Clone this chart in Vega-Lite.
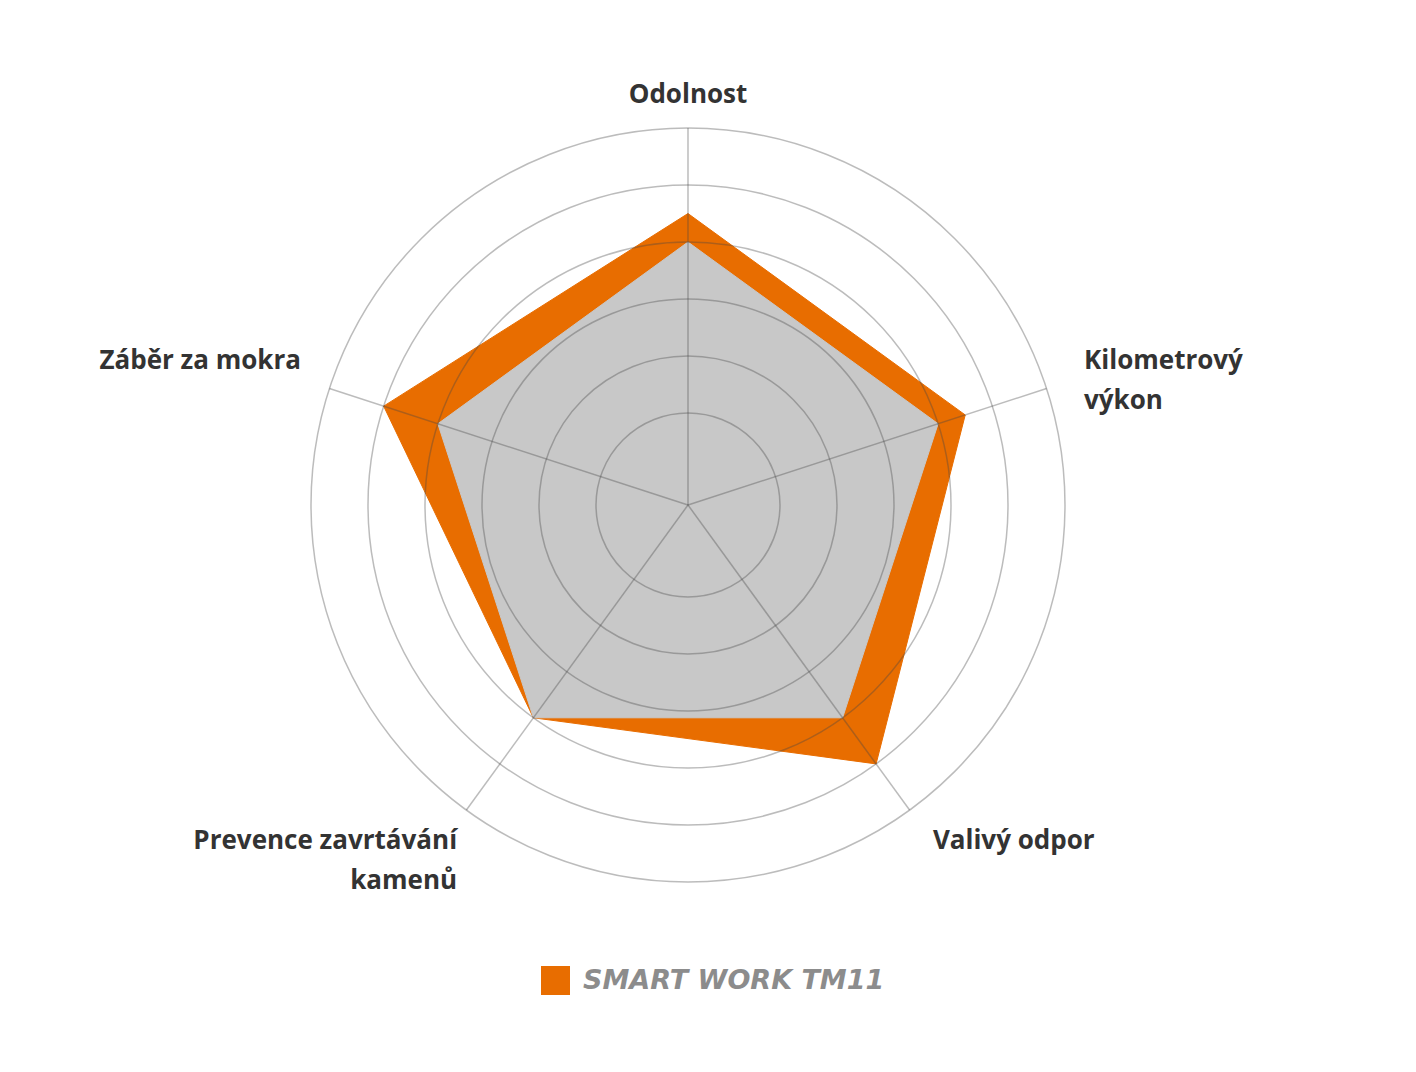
{
  "$schema": "https://vega.github.io/schema/vega-lite/v6.json",
  "width": 1416,
  "height": 1072,
  "autosize": {"type": "none"},
  "padding": 0,
  "background": "white",
  "config": {"view": {"stroke": null}, "text": {"font": "Open Sans"}},
  "datasets": {
    "scores": [
      {"category": "Odolnost", "idx": 0, "series": "SMART WORK TM11", "value": 4.5},
      {"category": "Kilometrový výkon", "idx": 1, "series": "SMART WORK TM11", "value": 4.5},
      {"category": "Valivý odpor", "idx": 2, "series": "SMART WORK TM11", "value": 5},
      {"category": "Prevence zavrtávání kamenů", "idx": 3, "series": "SMART WORK TM11", "value": 4},
      {"category": "Záběr za mokra", "idx": 4, "series": "SMART WORK TM11", "value": 5},
      {"category": "Odolnost", "idx": 0, "series": "Srovnání", "value": 4},
      {"category": "Kilometrový výkon", "idx": 1, "series": "Srovnání", "value": 4},
      {"category": "Valivý odpor", "idx": 2, "series": "Srovnání", "value": 4},
      {"category": "Prevence zavrtávání kamenů", "idx": 3, "series": "Srovnání", "value": 4},
      {"category": "Záběr za mokra", "idx": 4, "series": "Srovnání", "value": 4}
    ],
    "axes": [
      {"category": "Odolnost", "label": "Odolnost", "idx": 0},
      {"category": "Kilometrový výkon", "label": "Kilometrový\nvýkon", "idx": 1},
      {"category": "Valivý odpor", "label": "Valivý odpor", "idx": 2},
      {"category": "Prevence zavrtávání kamenů", "label": "Prevence zavrtávání\nkamenů", "idx": 3},
      {"category": "Záběr za mokra", "label": "Záběr za mokra", "idx": 4}
    ],
    "rings": [{"ring": 1}, {"ring": 2}, {"ring": 3}, {"ring": 4}, {"ring": 5}, {"ring": 6}]
  },
  "layer": [
    {
      "data": {"name": "scores"},
      "transform": [
        {"filter": "datum.series === 'SMART WORK TM11'"},
        {"calculate": "datum.idx * 2 * PI / 5", "as": "angle"},
        {"calculate": "(datum.value + 0.614) * sin(datum.angle)", "as": "px"},
        {"calculate": "(datum.value + 0.614) * cos(datum.angle)", "as": "py"}
      ],
      "mark": {"type": "line", "interpolate": "linear-closed", "fill": "#E86D00", "strokeWidth": 1},
      "encoding": {
        "x": {"field": "px", "type": "quantitative", "scale": {"domain": [-12.07, 12.772], "nice": false, "zero": false}, "axis": null},
        "y": {"field": "py", "type": "quantitative", "scale": {"domain": [-9.947, 8.86], "nice": false, "zero": false}, "axis": null},
        "order": {"field": "idx", "type": "quantitative"},
        "color": {
          "field": "series", "type": "nominal",
          "scale": {"domain": ["SMART WORK TM11"], "range": ["#E86D00"]},
          "legend": {
            "title": null, "orient": "none", "legendX": 541, "legendY": 966,
            "padding": 0, "symbolType": "square", "symbolSize": 841,
            "symbolFillColor": "#EC7410", "symbolStrokeColor": "#EC7410", "symbolStrokeWidth": 0,
            "symbolOpacity": 1,
            "labelFont": "DejaVu Sans", "labelFontSize": 27, "labelFontStyle": "italic",
            "labelFontWeight": "bold", "labelColor": "#8C8C8C", "labelOffset": 13, "labelLimit": 500
          }
        }
      }
    },
    {
      "data": {"name": "scores"},
      "transform": [
        {"filter": "datum.series === 'Srovnání'"},
        {"calculate": "datum.idx * 2 * PI / 5", "as": "angle"},
        {"calculate": "(datum.value + 0.614) * sin(datum.angle)", "as": "px"},
        {"calculate": "(datum.value + 0.614) * cos(datum.angle)", "as": "py"}
      ],
      "mark": {"type": "line", "interpolate": "linear-closed", "fill": "#C8C8C8", "stroke": "#C8C8C8", "strokeWidth": 1},
      "encoding": {
        "x": {"field": "px", "type": "quantitative", "scale": {"domain": [-12.07, 12.772], "nice": false, "zero": false}, "axis": null},
        "y": {"field": "py", "type": "quantitative", "scale": {"domain": [-9.947, 8.86], "nice": false, "zero": false}, "axis": null},
        "order": {"field": "idx", "type": "quantitative"}
      }
    },
    {
      "data": {"name": "rings"},
      "mark": {"type": "arc", "theta": 0, "theta2": 6.3, "radius2": 0, "filled": false, "stroke": "#444444", "strokeOpacity": 0.36, "strokeWidth": 1.5},
      "encoding": {
        "x": {"datum": 0, "type": "quantitative", "scale": {"domain": [-12.07, 12.772], "nice": false, "zero": false}, "axis": null},
        "y": {"datum": 0, "type": "quantitative", "scale": {"domain": [-9.947, 8.86], "nice": false, "zero": false}, "axis": null},
        "radius": {"field": "ring", "type": "quantitative", "stack": null, "scale": {"type": "linear", "domain": [0, 6], "range": [35, 377], "zero": false}}
      }
    },
    {
      "data": {"name": "axes"},
      "transform": [
        {"calculate": "datum.idx * 2 * PI / 5", "as": "angle"},
        {"calculate": "6.614 * sin(datum.angle)", "as": "ex"},
        {"calculate": "6.614 * cos(datum.angle)", "as": "ey"}
      ],
      "mark": {"type": "rule", "stroke": "#444444", "strokeOpacity": 0.36, "strokeWidth": 1.5},
      "encoding": {
        "x": {"field": "ex", "type": "quantitative", "scale": {"domain": [-12.07, 12.772], "nice": false, "zero": false}, "axis": null},
        "y": {"field": "ey", "type": "quantitative", "scale": {"domain": [-9.947, 8.86], "nice": false, "zero": false}, "axis": null},
        "x2": {"datum": 0},
        "y2": {"datum": 0}
      }
    },
    {
      "data": {"name": "axes"},
      "transform": [
        {"filter": "datum.idx === 0"},
        {"calculate": "datum.idx * 2 * PI / 5", "as": "angle"},
        {"calculate": "7.25 * sin(datum.angle)", "as": "lx"},
        {"calculate": "7.25 * cos(datum.angle)", "as": "ly"}
      ],
      "mark": {"type": "text", "align": "center", "baseline": "middle", "dy": 3, "fontSize": 26, "fontWeight": 700, "color": "#333333", "lineBreak": "\n", "lineHeight": 40},
      "encoding": {
        "x": {"field": "lx", "type": "quantitative", "scale": {"domain": [-12.07, 12.772], "nice": false, "zero": false}, "axis": null},
        "y": {"field": "ly", "type": "quantitative", "scale": {"domain": [-9.947, 8.86], "nice": false, "zero": false}, "axis": null},
        "text": {"field": "label"}
      }
    },
    {
      "data": {"name": "axes"},
      "transform": [
        {"filter": "datum.idx === 1"},
        {"calculate": "datum.idx * 2 * PI / 5", "as": "angle"},
        {"calculate": "7.25 * sin(datum.angle)", "as": "lx"},
        {"calculate": "7.25 * cos(datum.angle)", "as": "ly"}
      ],
      "mark": {"type": "text", "align": "left", "baseline": "middle", "dx": 3, "dy": -16, "fontSize": 26, "fontWeight": 700, "color": "#333333", "lineBreak": "\n", "lineHeight": 40},
      "encoding": {
        "x": {"field": "lx", "type": "quantitative", "scale": {"domain": [-12.07, 12.772], "nice": false, "zero": false}, "axis": null},
        "y": {"field": "ly", "type": "quantitative", "scale": {"domain": [-9.947, 8.86], "nice": false, "zero": false}, "axis": null},
        "text": {"field": "label"}
      }
    },
    {
      "data": {"name": "axes"},
      "transform": [
        {"filter": "datum.idx === 2"},
        {"calculate": "datum.idx * 2 * PI / 5", "as": "angle"},
        {"calculate": "7.25 * sin(datum.angle)", "as": "lx"},
        {"calculate": "7.25 * cos(datum.angle)", "as": "ly"}
      ],
      "mark": {"type": "text", "align": "left", "baseline": "middle", "dx": 2, "dy": 2, "fontSize": 26, "fontWeight": 700, "color": "#333333", "lineBreak": "\n", "lineHeight": 40},
      "encoding": {
        "x": {"field": "lx", "type": "quantitative", "scale": {"domain": [-12.07, 12.772], "nice": false, "zero": false}, "axis": null},
        "y": {"field": "ly", "type": "quantitative", "scale": {"domain": [-9.947, 8.86], "nice": false, "zero": false}, "axis": null},
        "text": {"field": "label"}
      }
    },
    {
      "data": {"name": "axes"},
      "transform": [
        {"filter": "datum.idx === 3"},
        {"calculate": "datum.idx * 2 * PI / 5", "as": "angle"},
        {"calculate": "7.25 * sin(datum.angle)", "as": "lx"},
        {"calculate": "7.25 * cos(datum.angle)", "as": "ly"}
      ],
      "mark": {"type": "text", "align": "right", "baseline": "middle", "dx": 12, "dy": 2, "fontSize": 26, "fontWeight": 700, "color": "#333333", "lineBreak": "\n", "lineHeight": 40},
      "encoding": {
        "x": {"field": "lx", "type": "quantitative", "scale": {"domain": [-12.07, 12.772], "nice": false, "zero": false}, "axis": null},
        "y": {"field": "ly", "type": "quantitative", "scale": {"domain": [-9.947, 8.86], "nice": false, "zero": false}, "axis": null},
        "text": {"field": "label"}
      }
    },
    {
      "data": {"name": "axes"},
      "transform": [
        {"filter": "datum.idx === 4"},
        {"calculate": "datum.idx * 2 * PI / 5", "as": "angle"},
        {"calculate": "7.25 * sin(datum.angle)", "as": "lx"},
        {"calculate": "7.25 * cos(datum.angle)", "as": "ly"}
      ],
      "mark": {"type": "text", "align": "right", "baseline": "middle", "dx": 6, "dy": -16, "fontSize": 26, "fontWeight": 700, "color": "#333333", "lineBreak": "\n", "lineHeight": 40},
      "encoding": {
        "x": {"field": "lx", "type": "quantitative", "scale": {"domain": [-12.07, 12.772], "nice": false, "zero": false}, "axis": null},
        "y": {"field": "ly", "type": "quantitative", "scale": {"domain": [-9.947, 8.86], "nice": false, "zero": false}, "axis": null},
        "text": {"field": "label"}
      }
    }
  ]
}
